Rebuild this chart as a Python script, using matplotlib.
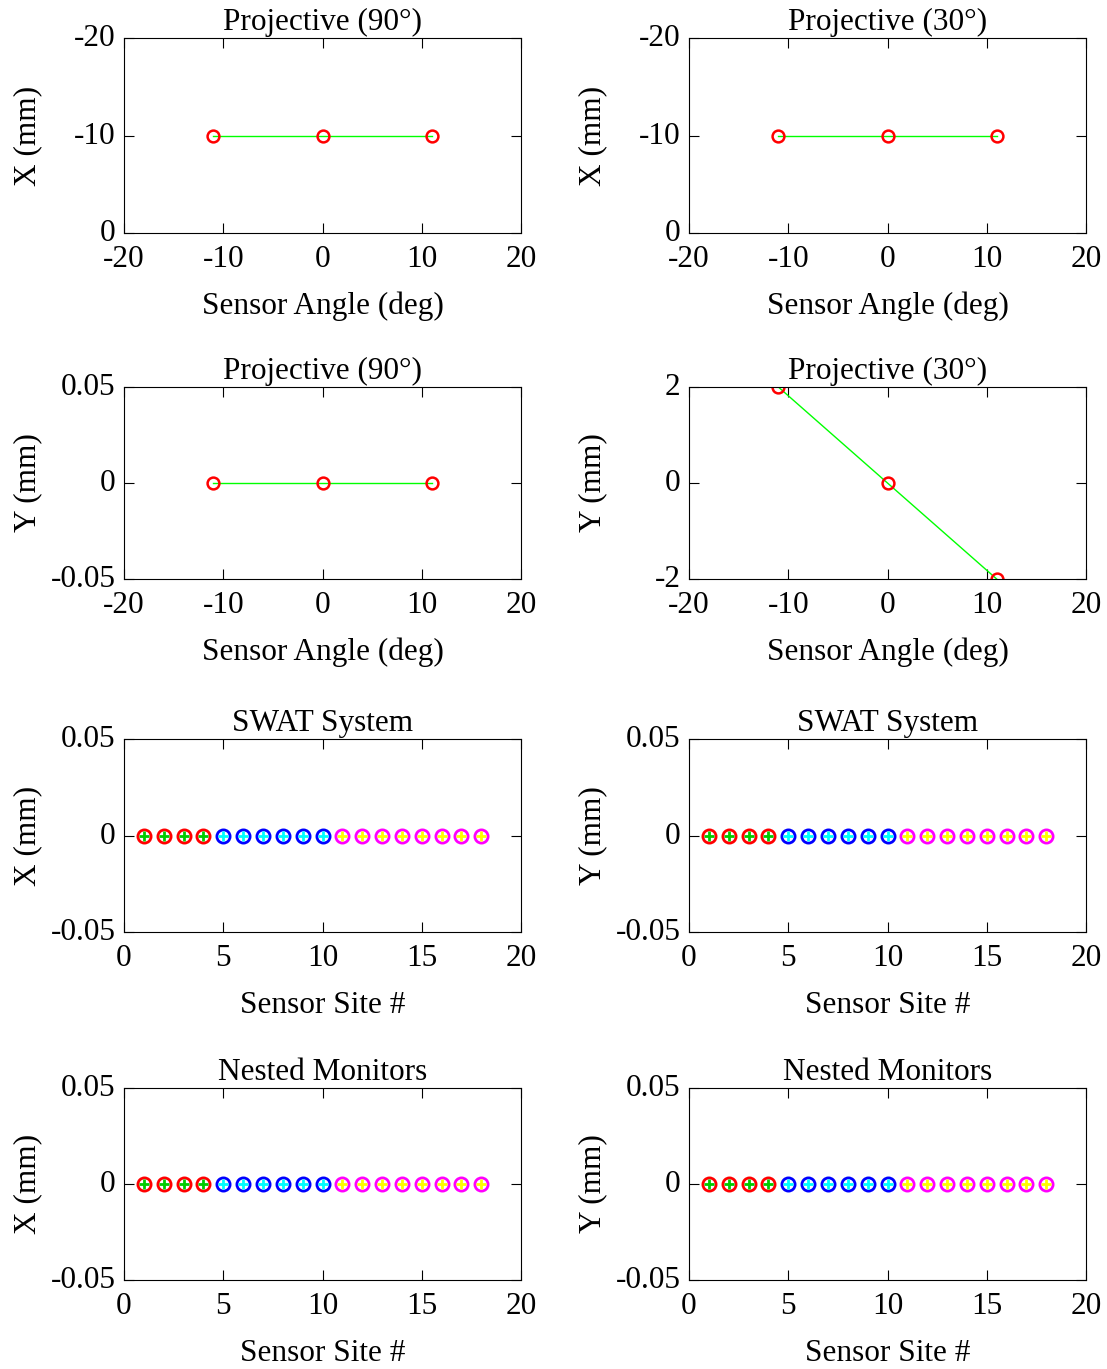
import numpy as np
import matplotlib.pyplot as plt
import matplotlib.transforms as mtransforms

plt.rcParams['font.family'] = ['Liberation Serif', 'DejaVu Serif']

# -------------------------------
# Data
# -------------------------------
sensor_angle = [-11, 0, 11]
proj90_x = [-10, -10, -10]
proj30_x = [-10, -10, -10]
proj90_y = [0, 0, 0]
proj30_y = [2, 0, -2]

sensor_site = list(range(1, 19))
swat_x = [0.0] * 18
swat_y = [0.0] * 18
nested_x = [0.0] * 18
nested_y = [0.0] * 18

# site groups: (first, last, ring colour, cross colour)
site_groups = [(1, 4, 'red', '#00cc00'), (5, 10, 'blue', 'cyan'), (11, 18, 'magenta', 'yellow')]

FS = 22.5
W, H = 1107, 1369
fig = plt.figure(figsize=(W / 100, H / 100), dpi=100)


def make_ax(left, right, top, bottom):
    ax = fig.add_axes([left / W, 1 - bottom / H, (right - left) / W, (bottom - top) / H])
    ax.tick_params(direction='in', top=True, right=True, length=7, width=0.8,
                   labelsize=FS)
    ax.tick_params(axis='x', pad=8.5)
    ax.tick_params(axis='y', pad=6)
    for s in ax.spines.values():
        s.set_linewidth(0.8)
    return ax


cols = [(124, 521), (689, 1086)]
rows = [(38, 233), (387, 579), (739, 932), (1088, 1280)]

# y tick labels sit a few pixels above their ticks, like the original
lift = mtransforms.ScaledTranslation(0, 3 / 100, fig.dpi_scale_trans)


def finish(ax, title, xlabel, ylabel):
    ax.set_title(title, fontsize=FS, pad=6)
    ax.set_xlabel(xlabel, fontsize=FS, labelpad=13)
    ax.set_ylabel(ylabel, fontsize=FS)
    ax.yaxis.set_label_coords(-0.205, 0.5)
    for lab in ax.get_yticklabels():
        lab.set_transform(lab.get_transform() + lift)


def proj_panel(ax, y, title, ylabel, ylim, yticks, ytl):
    ax.plot(sensor_angle, y, '-', color='#00ff00', lw=1)
    ax.plot(sensor_angle, y, 'o', mfc='none', mec='red', ms=8.5, mew=1.8)
    ax.set_xlim(-20, 20)
    ax.set_xticks([-20, -10, 0, 10, 20])
    ax.set_xticklabels(['-20', '-10', '0', '10', '20'])
    ax.set_ylim(*ylim)
    ax.set_yticks(yticks)
    ax.set_yticklabels(ytl)
    finish(ax, title, 'Sensor Angle (deg)', ylabel)


def site_panel(ax, y, title, ylabel):
    for a, b, ring, cross in site_groups:
        xs = sensor_site[a - 1:b]
        ys = y[a - 1:b]
        ax.plot(xs, ys, 'o', mfc='white', mec=ring, ms=9.5, mew=2)
        ax.plot(xs, ys, '+', color=cross, ms=7, mew=2)
    ax.set_xlim(0, 20)
    ax.set_xticks([0, 5, 10, 15, 20])
    ax.set_ylim(-0.05, 0.05)
    ax.set_yticks([-0.05, 0, 0.05])
    ax.set_yticklabels(['-0.05', '0', '0.05'])
    finish(ax, title, 'Sensor Site #', ylabel)


ax = make_ax(*cols[0], *rows[0])
proj_panel(ax, proj90_x, 'Projective (90°)', 'X (mm)', (0, -20), [-20, -10, 0], ['-20', '-10', '0'])
ax = make_ax(*cols[1], *rows[0])
proj_panel(ax, proj30_x, 'Projective (30°)', 'X (mm)', (0, -20), [-20, -10, 0], ['-20', '-10', '0'])
ax = make_ax(*cols[0], *rows[1])
proj_panel(ax, proj90_y, 'Projective (90°)', 'Y (mm)', (-0.05, 0.05), [-0.05, 0, 0.05], ['-0.05', '0', '0.05'])
ax = make_ax(*cols[1], *rows[1])
proj_panel(ax, proj30_y, 'Projective (30°)', 'Y (mm)', (-2, 2), [-2, 0, 2], ['-2', '0', '2'])

ax = make_ax(*cols[0], *rows[2])
site_panel(ax, swat_x, 'SWAT System', 'X (mm)')
ax = make_ax(*cols[1], *rows[2])
site_panel(ax, swat_y, 'SWAT System', 'Y (mm)')
ax = make_ax(*cols[0], *rows[3])
site_panel(ax, nested_x, 'Nested Monitors', 'X (mm)')
ax = make_ax(*cols[1], *rows[3])
site_panel(ax, nested_y, 'Nested Monitors', 'Y (mm)')

fig.savefig('out.png', dpi=100)
